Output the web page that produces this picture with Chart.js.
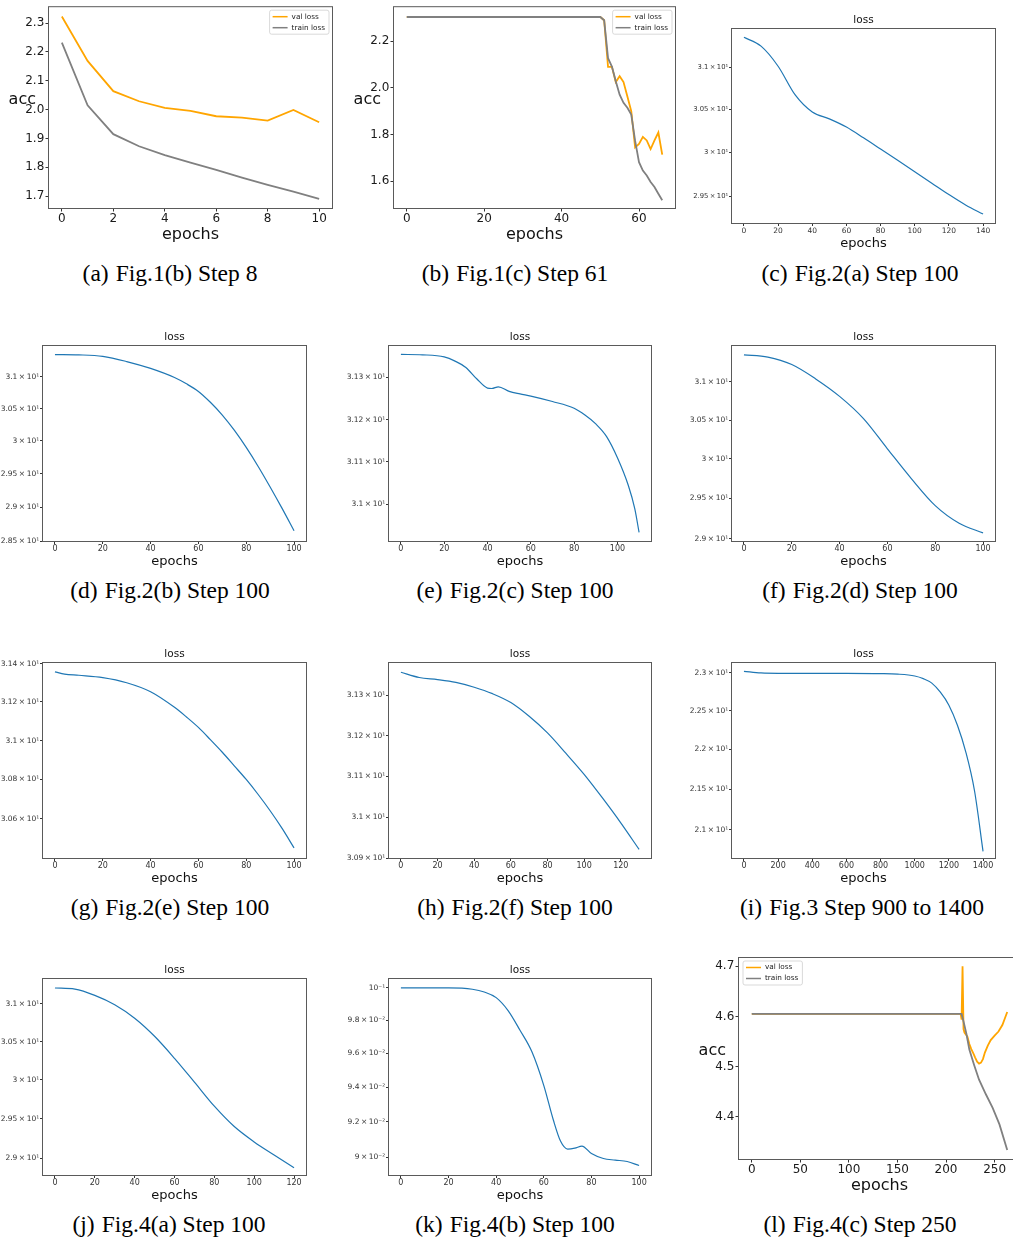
<!DOCTYPE html>
<html lang="en">
<head>
<meta charset="UTF-8" />
<title>Loss curves</title>
<script src="https://cdn.jsdelivr.net/npm/chart.js"></script>
<style>
  body { margin: 0; background: #fff; }
  #fig { position: relative; width: 1013px; height: 1240px; overflow: hidden; background: #fff; }
  #fig canvas { position: absolute; }
  .cap { position: absolute; width: 340px; margin-left: -170px; text-align: center; white-space: nowrap;
         font-family: "Liberation Serif", "DejaVu Serif", serif; font-size: 23.5px; line-height: 24px; color: #000; }
  .cap span { margin-right: 0.3em; }
</style>
</head>
<body>
<div id="fig"></div>

<script>
  const X = '\u2009×\u2009';   // thin spaces round the times sign, as in mathtext

  // (a) Fig.1(b) Step 8
  const aEpochs = [0, 1, 2, 3, 4, 5, 6, 7, 8, 9, 10];
  const aVal    = [2.323, 2.169, 2.064, 2.029, 2.006, 1.996, 1.977, 1.972, 1.962, 1.999, 1.956];
  const aTrain  = [2.232, 2.015, 1.915, 1.873, 1.842, 1.816, 1.791, 1.764, 1.739, 1.716, 1.691];
  const aTicksX = [0, 2, 4, 6, 8, 10];
  const aTicksY = [1.7, 1.8, 1.9, 2.0, 2.1, 2.2, 2.3];

  // (b) Fig.1(c) Step 61
  const bEpochs = [0, 50, 51, 52, 53, 54, 55, 56, 57, 58, 59, 60, 61, 62, 63, 64, 65, 66];
  const bVal    = [2.303, 2.303, 2.289, 2.09, 2.09, 2.025, 2.05, 2.025, 1.963, 1.90, 1.745, 1.76, 1.79, 1.775, 1.738, 1.775, 1.809, 1.714];
  const bTrain  = [2.303, 2.303, 2.289, 2.127, 2.091, 2.028, 1.971, 1.936, 1.915, 1.886, 1.773, 1.682, 1.646, 1.625, 1.597, 1.576, 1.547, 1.519];
  const bTicksX = [0, 20, 40, 60];
  const bTicksY = [1.6, 1.8, 2.0, 2.2];

  // (c) Fig.2(a) Step 100
  const cEpochs = [0, 10, 20, 30, 40, 50, 60, 70, 80, 90, 100, 110, 120, 130, 140];
  const cLoss   = [31.356, 31.25, 31.01, 30.67, 30.47, 30.39, 30.295, 30.17, 30.04, 29.91, 29.78, 29.65, 29.52, 29.40, 29.30];
  const cTicksX = [0, 20, 40, 60, 80, 100, 120, 140];
  const cTicksY = [29.5, 30, 30.5, 31];
  const cLabelsY = ['2.95' + X + '10¹', '3' + X + '10¹', '3.05' + X + '10¹', '3.1' + X + '10¹'];

  // (d) Fig.2(b) Step 100
  const dEpochs = [0, 10, 20, 30, 40, 50, 55, 60, 65, 70, 75, 80, 85, 90, 95, 100];
  const dLoss   = [31.357, 31.352, 31.328, 31.245, 31.135, 30.99, 30.89, 30.77, 30.60, 30.40, 30.165, 29.90, 29.61, 29.30, 28.98, 28.65];
  const dTicksY = [28.5, 29, 29.5, 30, 30.5, 31];
  const dLabelsY = ['2.85' + X + '10¹', '2.9' + X + '10¹', '2.95' + X + '10¹', '3' + X + '10¹', '3.05' + X + '10¹', '3.1' + X + '10¹'];

  // (e) Fig.2(c) Step 100
  const eEpochs = [0, 10, 20, 25, 30, 35, 40, 42, 45, 50, 55, 60, 70, 80, 85, 90, 95, 100, 105, 108, 110];
  const eLoss   = [31.355, 31.354, 31.349, 31.339, 31.324, 31.297, 31.275, 31.274, 31.278, 31.267, 31.261, 31.256,
                   31.243, 31.227, 31.211, 31.19, 31.16, 31.11, 31.045, 30.99, 30.934];
  const eTicksY = [31.0, 31.1, 31.2, 31.3];
  const eLabelsY = ['3.1' + X + '10¹', '3.11' + X + '10¹', '3.12' + X + '10¹', '3.13' + X + '10¹'];

  // (f) Fig.2(d) Step 100
  const fEpochs = [0, 10, 20, 30, 40, 50, 60, 70, 80, 90, 100];
  const fLoss   = [31.36, 31.33, 31.23, 31.04, 30.81, 30.52, 30.13, 29.75, 29.41, 29.19, 29.07];
  const fTicksY = [29, 29.5, 30, 30.5, 31];
  const fLabelsY = ['2.9' + X + '10¹', '2.95' + X + '10¹', '3' + X + '10¹', '3.05' + X + '10¹', '3.1' + X + '10¹'];

  // (g) Fig.2(e) Step 100
  const gEpochs = [0, 4, 10, 20, 30, 40, 50, 55, 60, 65, 70, 75, 80, 85, 90, 95, 100];
  const gLoss   = [31.357, 31.345, 31.339, 31.327, 31.30, 31.253, 31.172, 31.122, 31.068, 31.005, 30.94, 30.87,
                   30.80, 30.723, 30.64, 30.55, 30.451];
  const gTicksY = [30.6, 30.8, 31.0, 31.2, 31.4];
  const gLabelsY = ['3.06' + X + '10¹', '3.08' + X + '10¹', '3.1' + X + '10¹', '3.12' + X + '10¹', '3.14' + X + '10¹'];

  // (h) Fig.2(f) Step 100
  const hEpochs = [0, 10, 20, 30, 40, 50, 60, 70, 80, 90, 100, 110, 120, 130];
  const hLoss   = [31.357, 31.344, 31.339, 31.332, 31.32, 31.304, 31.282, 31.248, 31.207, 31.157, 31.105, 31.047, 30.986, 30.921];
  const hTicksY = [30.9, 31.0, 31.1, 31.2, 31.3];
  const hLabelsY = ['3.09' + X + '10¹', '3.1' + X + '10¹', '3.11' + X + '10¹', '3.12' + X + '10¹', '3.13' + X + '10¹'];

  // (i) Fig.3 Step 900 to 1400
  const iEpochs = [0, 100, 200, 400, 600, 800, 900, 1000, 1050, 1100, 1150, 1200, 1250, 1300, 1350, 1400];
  const iLoss   = [23.017, 22.995, 22.99, 22.99, 22.99, 22.987, 22.98, 22.955, 22.92, 22.86, 22.74, 22.57, 22.31, 21.96, 21.48, 20.74];
  const iTicksX = [0, 200, 400, 600, 800, 1000, 1200, 1400];
  const iTicksY = [21, 21.5, 22, 22.5, 23];
  const iLabelsY = ['2.1' + X + '10¹', '2.15' + X + '10¹', '2.2' + X + '10¹', '2.25' + X + '10¹', '2.3' + X + '10¹'];

  // (j) Fig.4(a) Step 100
  const jEpochs = [0, 10, 20, 30, 40, 50, 60, 70, 80, 90, 100, 110, 120];
  const jLoss   = [31.215, 31.2, 31.116, 30.99, 30.81, 30.57, 30.28, 29.97, 29.66, 29.40, 29.205, 29.04, 28.88];
  const jTicksY = [29, 29.5, 30, 30.5, 31];
  const jLabelsY = ['2.9' + X + '10¹', '2.95' + X + '10¹', '3' + X + '10¹', '3.05' + X + '10¹', '3.1' + X + '10¹'];

  // (k) Fig.4(b) Step 100
  const kEpochs = [0, 20, 30, 35, 40, 45, 50, 55, 60, 64, 67, 70, 73, 76, 80, 85, 90, 95, 100];
  const kLoss   = [0.1, 0.1, 0.09992, 0.09975, 0.0994, 0.0986, 0.0974, 0.0961, 0.0941, 0.0921, 0.0909,
                   0.09045, 0.0905, 0.09062, 0.0902, 0.08992, 0.08983, 0.08975, 0.08953];
  const kTicksY = [0.09, 0.092, 0.094, 0.096, 0.098, 0.1];
  const kLabelsY = ['9' + X + '10⁻²', '9.2' + X + '10⁻²', '9.4' + X + '10⁻²', '9.6' + X + '10⁻²', '9.8' + X + '10⁻²', '10⁻¹'];

  // (l) Fig.4(c) Step 250
  const lValEpochs   = [0, 215, 216, 217, 218, 219, 220, 222, 224, 226, 228, 230, 232, 234, 236, 238, 240, 243, 246, 250, 254, 258, 263];
  const lVal         = [4.605, 4.605, 4.594, 4.70, 4.575, 4.568, 4.565, 4.56, 4.545, 4.535, 4.527, 4.518, 4.51, 4.506,
                        4.508, 4.515, 4.528, 4.542, 4.553, 4.562, 4.57, 4.583, 4.609];
  const lTrainEpochs = [0, 216, 218, 221, 224, 229, 234, 241, 248, 255, 263];
  const lTrain       = [4.605, 4.605, 4.59, 4.565, 4.534, 4.503, 4.474, 4.445, 4.418, 4.385, 4.334];
  const lTicksX = [0, 50, 100, 150, 200, 250];
  const lTicksY = [4.4, 4.5, 4.6, 4.7];

  const ticks100 = [0, 20, 40, 60, 80, 100];
  const ticks120 = [0, 20, 40, 60, 80, 100, 120];

  const ORANGE = '#ffa500', GRAY = '#808080', BLUE = '#1f77b4';
  const FONT = "'DejaVu Sans', 'Liberation Sans', sans-serif";
  const fig = document.getElementById('fig');

  const pts = (xs, ys) => xs.map((x, i) => ({ x: x, y: ys[i] }));
  const accSeries = (ex, val, et, train) => [
    { label: 'val loss', data: pts(ex, val), color: ORANGE, order: 1 },
    { label: 'train loss', data: pts(et, train), color: GRAY, order: 0 }
  ];
  const lossSeries = (ex, loss) => [{ label: 'loss', data: pts(ex, loss), color: BLUE, order: 0 }];

  // box around the plot area, like matplotlib spines
  const framePlugin = {
    id: 'frame',
    afterDatasetsDraw(chart) {
      const { ctx, chartArea: a } = chart;
      ctx.save();
      ctx.strokeStyle = '#5a5a5a';
      ctx.lineWidth = 1;
      ctx.strokeRect(a.left - 0.5, a.top - 0.5, a.right - a.left + 1, a.bottom - a.top + 1);
      ctx.restore();
    }
  };

  // "loss" title over the axes, horizontal "acc" label and framed legend
  const annotPlugin = {
    id: 'annot',
    afterDraw(chart, args, opts) {
      const { ctx, chartArea: a } = chart;
      ctx.save();
      if (opts.title) {
        ctx.font = '10.5px ' + FONT;
        ctx.fillStyle = '#111';
        ctx.textAlign = 'center';
        ctx.textBaseline = 'middle';
        ctx.fillText(opts.title, (a.left + a.right) / 2, a.top - 9);
      }
      if (opts.ylabel) {
        ctx.font = '16px ' + FONT;
        ctx.fillStyle = '#111';
        ctx.textAlign = 'right';
        ctx.textBaseline = 'alphabetic';
        ctx.fillText(opts.ylabel, a.left - 13, (a.top + a.bottom) / 2 - 3.5);
      }
      if (opts.legend) {
        const items = chart.data.datasets.map(d => ({ label: d.label, color: d.borderColor }));
        ctx.font = '7.3px ' + FONT;
        const tw = Math.max(...items.map(it => ctx.measureText(it.label).width));
        const w = 22 + tw + 4, h = 24;
        const x = opts.legend === 'tr' ? a.right - 3 - w : a.left + 4;
        const y = a.top + 3;
        ctx.beginPath();
        ctx.roundRect(x, y, w, h, 2);
        ctx.fillStyle = 'rgba(255,255,255,0.8)';
        ctx.fill();
        ctx.strokeStyle = '#cfcfcf';
        ctx.lineWidth = 0.8;
        ctx.stroke();
        items.forEach((it, i) => {
          const ly = y + 6.5 + i * 11;
          ctx.strokeStyle = it.color;
          ctx.lineWidth = 1.5;
          ctx.beginPath();
          ctx.moveTo(x + 3, ly);
          ctx.lineTo(x + 18, ly);
          ctx.stroke();
          ctx.fillStyle = '#222';
          ctx.textAlign = 'left';
          ctx.textBaseline = 'middle';
          ctx.fillText(it.label, x + 22, ly);
        });
      }
      ctx.restore();
    }
  };

  const panels = [
    { kind: 'acc', box: [49, 5, 332, 208], yW: 49, tH: 5, rPad: 6, xH: 40, x: [-0.5, 10.5], y: [1.659, 2.355],
      ticksX: aTicksX, ticksY: aTicksY, legend: 'tr', series: accSeries(aEpochs, aVal, aEpochs, aTrain) },
    { kind: 'acc', box: [394, 5, 675, 208], yW: 50, tH: 5, rPad: 6, xH: 40, x: [-3.3, 69.3], y: [1.486, 2.345],
      ticksX: bTicksX, ticksY: bTicksY, legend: 'tr', series: accSeries(bEpochs, bVal, bEpochs, bTrain) },
    { kind: 'loss', small: true, box: [732, 29, 995, 223], x: [-7, 147], y: [29.2, 31.456],
      ticksX: cTicksX, ticksY: cTicksY, labelsY: cLabelsY, series: lossSeries(cEpochs, cLoss) },
    { kind: 'loss', box: [43, 346, 306, 541], x: [-5, 105], y: [28.5, 31.495],
      ticksX: ticks100, ticksY: dTicksY, labelsY: dLabelsY, series: lossSeries(dEpochs, dLoss) },
    { kind: 'loss', box: [389, 346, 651, 541], x: [-5.5, 115.5], y: [30.914, 31.375],
      ticksX: ticks100, ticksY: eTicksY, labelsY: eLabelsY, series: lossSeries(eEpochs, eLoss) },
    { kind: 'loss', box: [732, 346, 995, 541], x: [-5, 105], y: [28.97, 31.478],
      ticksX: ticks100, ticksY: fTicksY, labelsY: fLabelsY, series: lossSeries(fEpochs, fLoss) },
    { kind: 'loss', box: [43, 663, 306, 858], x: [-5, 105], y: [30.407, 31.403],
      ticksX: ticks100, ticksY: gTicksY, labelsY: gLabelsY, series: lossSeries(gEpochs, gLoss) },
    { kind: 'loss', box: [389, 663, 651, 858], x: [-6.5, 136.5], y: [30.9, 31.38],
      ticksX: ticks120, ticksY: hTicksY, labelsY: hLabelsY, series: lossSeries(hEpochs, hLoss) },
    { kind: 'loss', box: [732, 663, 995, 858], x: [-70, 1470], y: [20.66, 23.128],
      ticksX: iTicksX, ticksY: iTicksY, labelsY: iLabelsY, series: lossSeries(iEpochs, iLoss) },
    { kind: 'loss', box: [43, 979, 306, 1175], x: [-6, 126], y: [28.79, 31.337],
      ticksX: ticks120, ticksY: jTicksY, labelsY: jLabelsY, series: lossSeries(jEpochs, jLoss) },
    { kind: 'loss', box: [389, 979, 651, 1175], x: [-5, 105], y: [0.08904, 0.10056],
      ticksX: ticks100, ticksY: kTicksY, labelsY: kLabelsY, series: lossSeries(kEpochs, kLoss) },
    { kind: 'acc', box: [739, 958, 1020, 1159], yW: 45, tH: 8, rPad: 4, xH: 40, x: [-13.15, 276.15], y: [4.316, 4.7165],
      ticksX: lTicksX, ticksY: lTicksY, legend: 'tl', series: accSeries(lValEpochs, lVal, lTrainEpochs, lTrain) }
  ];

  const captions = [
    ['(a)', 'Fig.1(b) Step 8', 170, 273], ['(b)', 'Fig.1(c) Step 61', 515, 273], ['(c)', 'Fig.2(a) Step 100', 860, 273],
    ['(d)', 'Fig.2(b) Step 100', 170, 590], ['(e)', 'Fig.2(c) Step 100', 515, 590], ['(f)', 'Fig.2(d) Step 100', 860, 590],
    ['(g)', 'Fig.2(e) Step 100', 170, 907], ['(h)', 'Fig.2(f) Step 100', 515, 907], ['(i)', 'Fig.3 Step 900 to 1400', 862, 907],
    ['(j)', 'Fig.4(a) Step 100', 169, 1224], ['(k)', 'Fig.4(b) Step 100', 515, 1224], ['(l)', 'Fig.4(c) Step 250', 860, 1224]
  ];

  const drawPanel = (p) => {
    const acc = p.kind === 'acc';
    const yW = p.yW || 56, tH = p.tH || 24, rPad = p.rPad || 8, xH = p.xH || 30;
    const bw = p.box[2] - p.box[0], bh = p.box[3] - p.box[1];
    const W = yW + bw + rPad, H = tH + bh + xH;
    const cv = document.createElement('canvas');
    cv.width = W;
    cv.height = H;
    Object.assign(cv.style, { left: (p.box[0] - yW) + 'px', top: (p.box[1] - tH) + 'px', width: W + 'px', height: H + 'px' });
    fig.appendChild(cv);

    const xFont = { family: FONT, size: acc ? 12 : (p.small ? 7.5 : 8), lineHeight: 1 };
    const yFont = { family: FONT, size: acc ? 12 : (p.small ? 6.8 : 7.5), lineHeight: 1 };
    const tickColor = acc ? '#1a1a1a' : '#333';

    new Chart(cv, {
      type: 'line',
      data: {
        datasets: p.series.map(s => ({
          label: s.label, data: s.data, borderColor: s.color, borderWidth: acc ? 1.8 : 1.2,
          pointRadius: 0, fill: false, order: s.order,
          tension: acc ? 0 : 0.4, cubicInterpolationMode: acc ? 'default' : 'monotone'
        }))
      },
      options: {
        responsive: false, animation: false, events: [], devicePixelRatio: 1,
        layout: { padding: { top: tH, right: rPad, bottom: 0, left: 0 } },
        plugins: {
          legend: { display: false },
          tooltip: { enabled: false },
          annot: { title: acc ? '' : 'loss', ylabel: acc ? 'acc' : '', legend: acc ? p.legend : '' }
        },
        scales: {
          x: {
            type: 'linear', min: p.x[0], max: p.x[1],
            afterFit: s => { s.height = xH; },
            afterBuildTicks: s => { s.ticks = p.ticksX.map(v => ({ value: v })); },
            ticks: { autoSkip: false, maxRotation: 0, font: xFont, color: tickColor, padding: acc ? 1 : 1.3, callback: v => String(v) },
            grid: { drawOnChartArea: false, drawTicks: true, tickLength: acc ? 3.5 : 3, color: '#333' },
            border: { display: false },
            title: {
              display: true, text: 'epochs', color: '#111',
              font: { family: FONT, size: acc ? 16 : 13, lineHeight: 1.2 },
              padding: { top: 0, bottom: acc ? 3.4 : 1.2 }
            }
          },
          y: {
            type: acc ? 'linear' : 'logarithmic', min: p.y[0], max: p.y[1],
            afterFit: s => { s.width = yW; },
            afterBuildTicks: s => { s.ticks = p.ticksY.map(v => ({ value: v })); },
            ticks: {
              autoSkip: false, font: yFont, color: tickColor, padding: acc ? 1.2 : 0.8,
              callback: (v, i) => p.labelsY ? p.labelsY[i] : Number(v).toFixed(1)
            },
            grid: { drawOnChartArea: false, drawTicks: true, tickLength: acc ? 3.5 : 3, color: '#333' },
            border: { display: false }
          }
        }
      },
      plugins: [framePlugin, annotPlugin]
    });
  };

  panels.forEach(drawPanel);

  captions.forEach(([tag, text, cx, cy]) => {
    const d = document.createElement('div');
    d.className = 'cap';
    d.style.left = cx + 'px';
    d.style.top = (cy - 12) + 'px';
    d.innerHTML = '<span>' + tag + '</span>' + text;
    fig.appendChild(d);
  });
</script>
</body>
</html>
